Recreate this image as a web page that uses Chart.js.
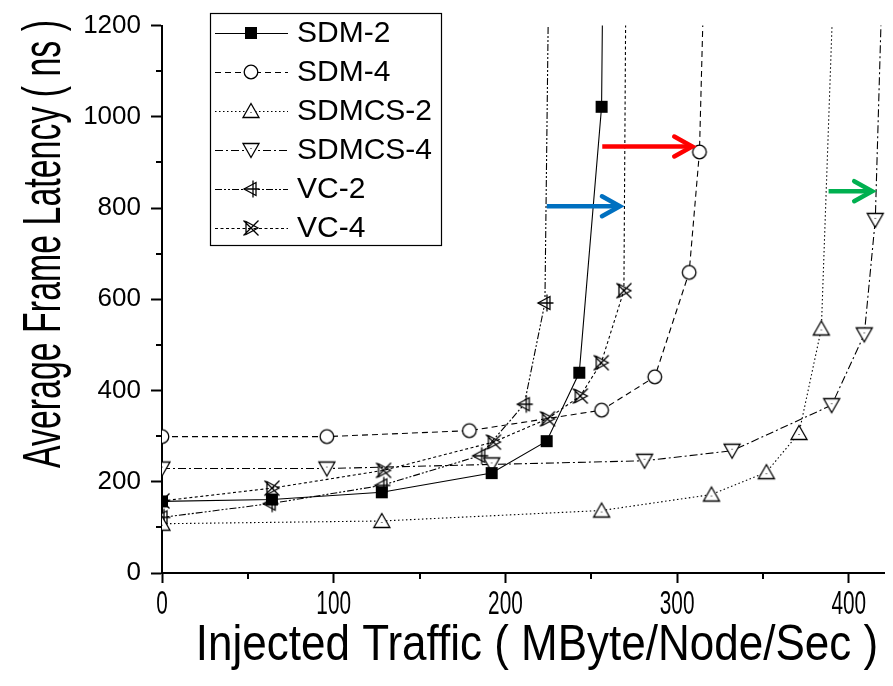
<!DOCTYPE html>
<html>
<head>
<meta charset="utf-8">
<script src="https://cdn.jsdelivr.net/npm/chart.js@4.4.0/dist/chart.umd.min.js"></script>
<style>
  html, body { margin: 0; padding: 0; background: #fff; }
  #latency-chart { display: block; }
</style>
</head>
<body>
<canvas id="latency-chart" width="893" height="686"></canvas>
<script>
// injected traffic (MByte/Node/Sec) vs average frame latency (ns)
const seriesNames = ['SDM-2', 'SDM-4', 'SDMCS-2', 'SDMCS-4', 'VC-2', 'VC-4'];

const sdm2Traffic = [0, 64, 128, 192, 224, 243, 256, 257.2];
const sdm2Latency = [157, 161, 177, 219, 289, 439, 1022, 1500];
const sdm4Traffic = [0, 96, 179, 256, 287, 307, 313, 317];
const sdm4Latency = [299, 299, 312, 357, 430, 659, 923, 1500];
const sdmcs2Traffic = [0, 128, 256, 320, 352, 371, 384, 393];
const sdmcs2Latency = [108, 114, 137, 172, 221, 307, 536, 1500];
const sdmcs4Traffic = [0, 96, 192, 281, 332, 390, 409, 415.4, 421];
const sdmcs4Latency = [229, 229, 238, 246, 268, 368, 523, 774, 1500];
const vc2Traffic = [0, 63, 128, 185, 211, 223, 225.8];
const vc2Latency = [122, 152, 192, 257, 370, 592, 1500];
const vc4Traffic = [0, 64, 129, 193, 224.5, 243.6, 255.8, 269, 270.5];
const vc4Latency = [158, 186, 225, 287, 338, 388, 461, 619, 1500];

const xTickValues = [0, 100, 200, 300, 400];
const xMinorTicks = [50, 150, 250, 350];
const yMinorTicks = [100, 300, 500, 700, 900, 1100];

// callout arrows: [from traffic, to traffic, latency, colour]
const arrowBlue = [224.1, 266.7, 804, '#0070c0'];
const arrowRed = [256.4, 308.8, 935, '#ff0000'];
const arrowGreen = [388.2, 413.6, 837, '#00b050'];

const lineDashes = [[], [6, 4], [1.5, 2.5], [8, 3, 2, 3], [7, 2, 2, 2, 2, 2], [3, 2.5]];
const markerKinds = ['square', 'circle', 'up', 'down', 'left', 'bowtie'];

const FONT = '"Liberation Sans", Arial, sans-serif';

function makeMarker(kind) {
  const c = document.createElement('canvas');
  c.width = 22;
  c.height = 22;
  const g = c.getContext('2d');
  g.translate(11, 11);
  g.lineWidth = 1.3;
  g.strokeStyle = '#000';
  g.fillStyle = '#fff';
  g.beginPath();
  if (kind === 'square') {
    g.fillStyle = '#000';
    g.fillRect(-6, -6, 12, 12);
  } else if (kind === 'circle') {
    g.arc(0, 0, 6.8, 0, Math.PI * 2);
    g.fill();
    g.stroke();
  } else if (kind === 'up') {
    g.moveTo(0, -7.5);
    g.lineTo(8, 6.5);
    g.lineTo(-8, 6.5);
    g.closePath();
    g.fill();
    g.stroke();
    g.fillStyle = '#000';
    g.fillRect(-0.5, 1, 1, 1);
  } else if (kind === 'down') {
    g.moveTo(0, 7.5);
    g.lineTo(8, -6.5);
    g.lineTo(-8, -6.5);
    g.closePath();
    g.fill();
    g.stroke();
    g.fillStyle = '#000';
    g.fillRect(-0.5, -2, 1, 1);
  } else if (kind === 'left') {
    g.moveTo(-7, 0);
    g.lineTo(5, -6.5);
    g.lineTo(5, 6.5);
    g.closePath();
    g.fill();
    g.stroke();
    g.beginPath();
    g.moveTo(2, -8.5);
    g.lineTo(2, 8.5);
    g.moveTo(-7, 0);
    g.lineTo(8.5, 0);
    g.stroke();
  } else if (kind === 'bowtie') {
    g.moveTo(-7.5, -7.5);
    g.lineTo(7.5, 7.5);
    g.moveTo(-7.5, 7.5);
    g.lineTo(7.5, -7.5);
    g.moveTo(-5, -6.5);
    g.lineTo(7, 0);
    g.lineTo(-5, 6.5);
    g.closePath();
    g.stroke();
  }
  return c;
}

const markerImages = markerKinds.map(makeMarker);

function series(i, xs, ys) {
  return {
    label: seriesNames[i],
    data: xs.map((x, k) => ({ x, y: ys[k] })),
    borderColor: '#000',
    borderWidth: 1.1,
    borderDash: lineDashes[i],
    pointStyle: markerImages[i],
    pointRadius: 7,
    pointHoverRadius: 7,
    tension: 0,
    fill: false,
  };
}

// text with horizontal squeeze along its own baseline
function squeezedText(ctx, text, x, y, font, sx, angle, align) {
  ctx.save();
  ctx.translate(x, y);
  ctx.rotate(angle);
  ctx.scale(sx, 1);
  ctx.font = font;
  ctx.fillStyle = '#000';
  ctx.textAlign = align;
  ctx.textBaseline = 'alphabetic';
  ctx.fillText(text, 0, 0);
  ctx.restore();
}

const axisExtras = {
  id: 'axisExtras',
  afterDraw(chart) {
    const { ctx, chartArea, scales: { x, y } } = chart;
    ctx.save();
    ctx.strokeStyle = '#000';
    ctx.lineWidth = 2;
    ctx.beginPath();
    xMinorTicks.forEach(v => {
      const px = Math.round(x.getPixelForValue(v));
      ctx.moveTo(px, chartArea.bottom);
      ctx.lineTo(px, chartArea.bottom + 6);
    });
    yMinorTicks.forEach(v => {
      const py = Math.round(y.getPixelForValue(v));
      ctx.moveTo(chartArea.left, py);
      ctx.lineTo(chartArea.left - 6, py);
    });
    ctx.stroke();
    ctx.restore();

    xTickValues.forEach(v => {
      squeezedText(ctx, String(v), x.getPixelForValue(v), 614, '33px ' + FONT, 0.63, 0, 'center');
    });
    squeezedText(ctx, 'Injected Traffic ( MByte/Node/Sec )', 537, 660, '50px ' + FONT, 0.88, 0, 'center');
    squeezedText(ctx, 'Average Frame Latency ( ns )', 60, 244, '53px ' + FONT, 0.64, -Math.PI / 2, 'center');
  }
};

const calloutArrows = {
  id: 'calloutArrows',
  afterDatasetsDraw(chart) {
    const { ctx, scales: { x, y } } = chart;
    [arrowBlue, arrowRed, arrowGreen].forEach(([from, to, lat, colour]) => {
      const x0 = x.getPixelForValue(from);
      const x1 = x.getPixelForValue(to);
      const py = y.getPixelForValue(lat);
      ctx.save();
      ctx.strokeStyle = colour;
      ctx.lineWidth = 4.5;
      ctx.lineCap = 'butt';
      ctx.lineJoin = 'miter';
      ctx.beginPath();
      ctx.moveTo(x0, py);
      ctx.lineTo(x1 - 2, py);
      ctx.stroke();
      ctx.lineCap = 'round';
      ctx.beginPath();
      ctx.moveTo(x1 - 18, py - 10);
      ctx.lineTo(x1, py);
      ctx.lineTo(x1 - 18, py + 10);
      ctx.stroke();
      ctx.restore();
    });
  }
};

const boxLegend = {
  id: 'boxLegend',
  afterDraw(chart) {
    const { ctx } = chart;
    const left = 210, top = 13, right = 441, bottom = 245;
    ctx.save();
    ctx.fillStyle = '#fff';
    ctx.fillRect(left, top, right - left, bottom - top);
    ctx.strokeStyle = '#000';
    ctx.lineWidth = 1.2;
    ctx.strokeRect(left + 0.5, top + 0.5, right - left, bottom - top);
    seriesNames.forEach((name, i) => {
      const ry = 33 + i * 39;
      ctx.beginPath();
      ctx.setLineDash(lineDashes[i]);
      ctx.lineWidth = 1.1;
      ctx.moveTo(215, ry + 0.5);
      ctx.lineTo(288, ry + 0.5);
      ctx.stroke();
      ctx.setLineDash([]);
      ctx.drawImage(markerImages[i], 251 - 11, ry - 11);
      ctx.fillStyle = '#000';
      ctx.font = '30px ' + FONT;
      ctx.textAlign = 'left';
      ctx.textBaseline = 'middle';
      ctx.fillText(name, 297, ry + 1);
    });
    ctx.restore();
  }
};

new Chart(document.getElementById('latency-chart'), {
  type: 'line',
  data: {
    datasets: [
      series(0, sdm2Traffic, sdm2Latency),
      series(1, sdm4Traffic, sdm4Latency),
      series(2, sdmcs2Traffic, sdmcs2Latency),
      series(3, sdmcs4Traffic, sdmcs4Latency),
      series(4, vc2Traffic, vc2Latency),
      series(5, vc4Traffic, vc4Latency),
    ],
  },
  options: {
    responsive: false,
    animation: false,
    events: [],
    layout: { padding: { top: 23, left: 0, right: 0, bottom: 0 } },
    plugins: {
      legend: { display: false },
      tooltip: { enabled: false },
    },
    scales: {
      x: {
        type: 'linear',
        min: 0,
        max: 421,
        afterBuildTicks: scale => {
          scale.ticks = xTickValues.map(v => ({ value: v }));
        },
        afterFit: scale => { scale.height = 113; },
        ticks: { display: false },
        grid: {
          drawOnChartArea: false,
          drawTicks: true,
          tickLength: 10,
          tickWidth: 2,
          tickColor: '#000',
        },
        border: { display: true, color: '#000', width: 2 },
      },
      y: {
        min: 0,
        max: 1200,
        afterFit: scale => { scale.width = 162; },
        ticks: {
          stepSize: 200,
          padding: 10,
          color: '#000',
          font: { family: FONT, size: 26 },
          callback: v => String(v),
        },
        grid: {
          drawOnChartArea: false,
          drawTicks: true,
          tickLength: 11,
          tickWidth: 2,
          tickColor: '#000',
        },
        border: { display: true, color: '#000', width: 2 },
      },
    },
  },
  plugins: [calloutArrows, axisExtras, boxLegend],
});
</script>
</body>
</html>
